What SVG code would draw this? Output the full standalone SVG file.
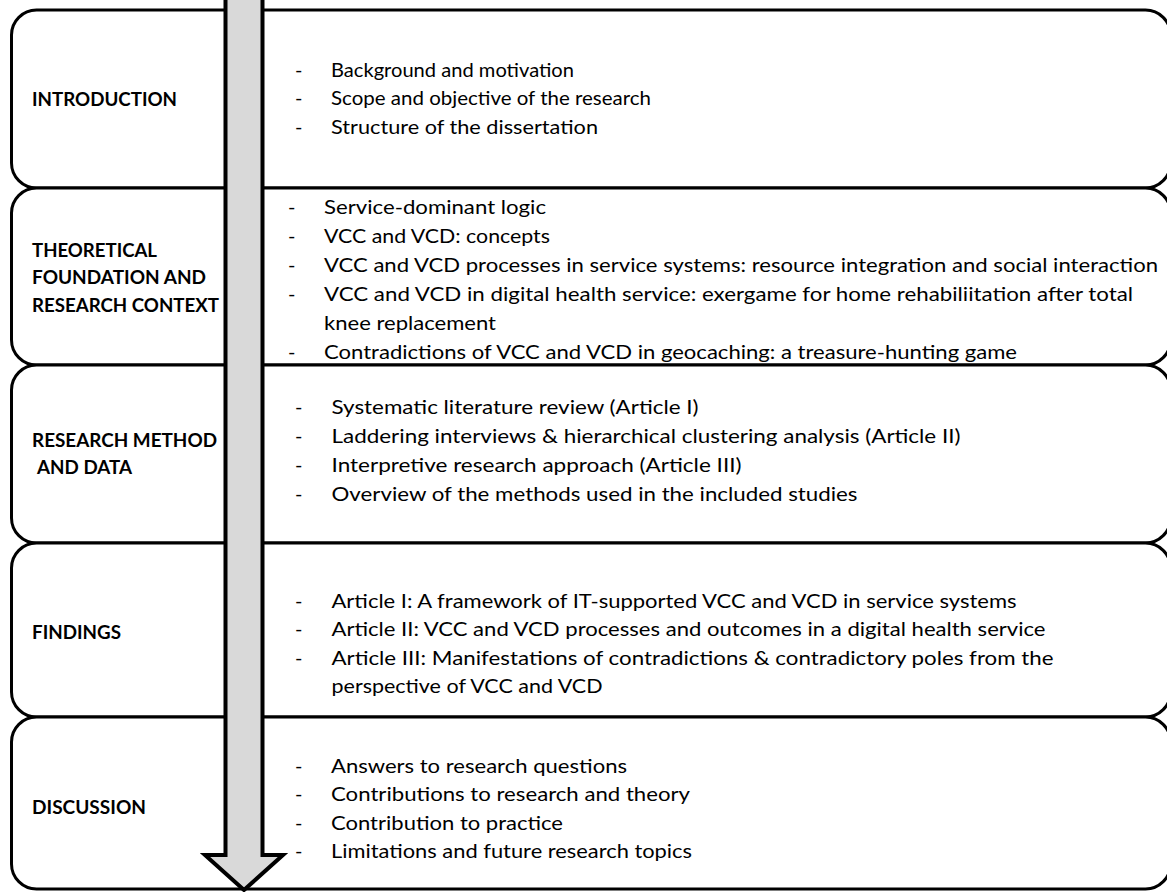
<svg xmlns="http://www.w3.org/2000/svg" width="1167" height="892" viewBox="0 0 1167 892">
  <style>
    .box { fill: #ffffff; stroke: #000000; stroke-width: 3; }
    .label { font-family: Lato, "Liberation Sans", sans-serif; font-weight: bold; font-size: 19.5px; fill: #000000; }
    .item { font-family: Lato, "Liberation Sans", sans-serif; font-size: 20px; fill: #000000; }
    .dash { font-family: Lato, "Liberation Sans", sans-serif; font-size: 20px; fill: #000000; }
    .flow { fill: #d9d9d9; stroke: #000000; stroke-width: 4; stroke-linejoin: miter; }
  </style>

  <!-- Chapter 1 -->
  <g id="introduction">
    <rect class="box" x="11.5" y="10" width="1159" height="178" rx="25" ry="25"/>
    <text class="label" x="32" y="106" textLength="145" lengthAdjust="spacingAndGlyphs">INTRODUCTION</text>
    <text class="dash" x="295" y="77">-</text>
    <text class="dash" x="295" y="105">-</text>
    <text class="dash" x="295" y="134">-</text>
    <text class="item" x="331" y="77" textLength="243" lengthAdjust="spacingAndGlyphs">Background and motivation</text>
    <text class="item" x="331" y="105" textLength="320" lengthAdjust="spacingAndGlyphs">Scope and objective of the research</text>
    <text class="item" x="331" y="134" textLength="267" lengthAdjust="spacingAndGlyphs">Structure of the dissertation</text>
  </g>

  <!-- Chapter 2 -->
  <g id="theory">
    <rect class="box" x="11.5" y="188" width="1159" height="177" rx="25" ry="25"/>
    <text class="label" x="32" y="257" textLength="125" lengthAdjust="spacingAndGlyphs">THEORETICAL</text>
    <text class="label" x="32" y="284" textLength="174" lengthAdjust="spacingAndGlyphs">FOUNDATION AND</text>
    <text class="label" x="32" y="312" textLength="187" lengthAdjust="spacingAndGlyphs">RESEARCH CONTEXT</text>
    <text class="dash" x="288" y="214">-</text>
    <text class="dash" x="288" y="243">-</text>
    <text class="dash" x="288" y="272">-</text>
    <text class="dash" x="288" y="301">-</text>
    <text class="dash" x="288" y="359">-</text>
    <text class="item" x="324" y="214" textLength="222" lengthAdjust="spacingAndGlyphs">Service-dominant logic</text>
    <text class="item" x="324" y="243" textLength="226" lengthAdjust="spacingAndGlyphs">VCC and VCD: concepts</text>
    <text class="item" x="324" y="272" textLength="834" lengthAdjust="spacingAndGlyphs">VCC and VCD processes in service systems: resource integration and social interaction</text>
    <text class="item" x="324" y="301" textLength="809" lengthAdjust="spacingAndGlyphs">VCC and VCD in digital health service: exergame for home rehabiliitation after total</text>
    <text class="item" x="324" y="330" textLength="172" lengthAdjust="spacingAndGlyphs">knee replacement</text>
    <text class="item" x="324" y="359" textLength="693" lengthAdjust="spacingAndGlyphs">Contradictions of VCC and VCD in geocaching: a treasure-hunting game</text>
  </g>

  <!-- Chapter 3 -->
  <g id="method">
    <rect class="box" x="11.5" y="365" width="1159" height="178" rx="25" ry="25"/>
    <text class="label" x="32" y="447" textLength="185" lengthAdjust="spacingAndGlyphs">RESEARCH METHOD</text>
    <text class="label" x="37" y="474" textLength="95" lengthAdjust="spacingAndGlyphs">AND DATA</text>
    <text class="dash" x="295" y="414">-</text>
    <text class="dash" x="295" y="443">-</text>
    <text class="dash" x="295" y="472">-</text>
    <text class="dash" x="295" y="501">-</text>
    <text class="item" x="331.5" y="414" textLength="367" lengthAdjust="spacingAndGlyphs">Systematic literature review (Article I)</text>
    <text class="item" x="331.5" y="443" textLength="629" lengthAdjust="spacingAndGlyphs">Laddering interviews &amp; hierarchical clustering analysis (Article II)</text>
    <text class="item" x="331.5" y="472" textLength="410" lengthAdjust="spacingAndGlyphs">Interpretive research approach (Article III)</text>
    <text class="item" x="331.5" y="501" textLength="526" lengthAdjust="spacingAndGlyphs">Overview of the methods used in the included studies</text>
  </g>

  <!-- Chapter 4 -->
  <g id="findings">
    <rect class="box" x="11.5" y="543" width="1159" height="174" rx="25" ry="25"/>
    <text class="label" x="32" y="639" textLength="89" lengthAdjust="spacingAndGlyphs">FINDINGS</text>
    <text class="dash" x="295" y="608">-</text>
    <text class="dash" x="295" y="636">-</text>
    <text class="dash" x="295" y="665">-</text>
    <text class="item" x="331.5" y="608" textLength="685" lengthAdjust="spacingAndGlyphs">Article I: A framework of IT-supported VCC and VCD in service systems</text>
    <text class="item" x="331.5" y="636" textLength="714" lengthAdjust="spacingAndGlyphs">Article II: VCC and VCD processes and outcomes in a digital health service</text>
    <text class="item" x="331.5" y="665" textLength="722" lengthAdjust="spacingAndGlyphs">Article III: Manifestations of contradictions &amp; contradictory poles from the</text>
    <text class="item" x="331.5" y="693" textLength="271" lengthAdjust="spacingAndGlyphs">perspective of VCC and VCD</text>
  </g>

  <!-- Chapter 5 -->
  <g id="discussion">
    <rect class="box" x="11.5" y="717" width="1159" height="172" rx="25" ry="25"/>
    <text class="label" x="32" y="814" textLength="114" lengthAdjust="spacingAndGlyphs">DISCUSSION</text>
    <text class="dash" x="295" y="773">-</text>
    <text class="dash" x="295" y="801">-</text>
    <text class="dash" x="295" y="830">-</text>
    <text class="dash" x="295" y="858">-</text>
    <text class="item" x="331" y="773" textLength="296" lengthAdjust="spacingAndGlyphs">Answers to research questions</text>
    <text class="item" x="331" y="801" textLength="359" lengthAdjust="spacingAndGlyphs">Contributions to research and theory</text>
    <text class="item" x="331" y="830" textLength="232" lengthAdjust="spacingAndGlyphs">Contribution to practice</text>
    <text class="item" x="331" y="858" textLength="361" lengthAdjust="spacingAndGlyphs">Limitations and future research topics</text>
  </g>

  <!-- Downward flow arrow across all chapters -->
  <g id="connectors">
    <path class="flow" d="M225.5,-5 L225.5,855 L205,855 L244,890 L283,855 L262.5,855 L262.5,-5 Z"/>
  </g>
</svg>
